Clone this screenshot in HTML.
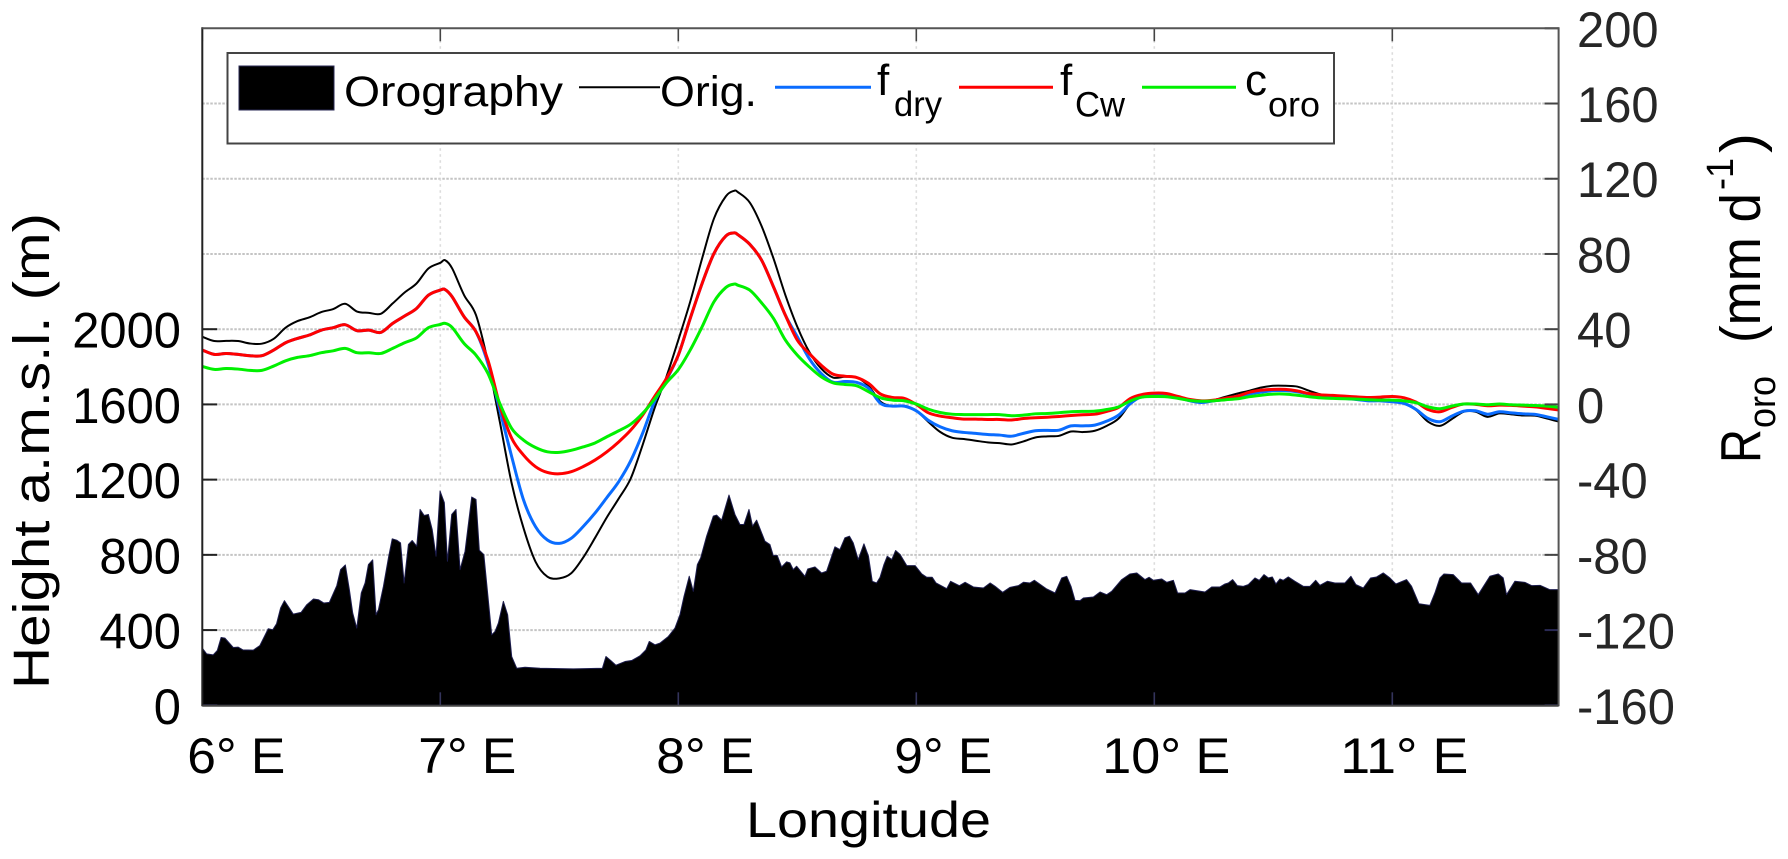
<!DOCTYPE html>
<html>
<head>
<meta charset="utf-8">
<title>Orography and R_oro by longitude</title>
<style>
html,body{margin:0;padding:0;background:#fff;}
svg{display:block;font-family:"Liberation Sans",Arial,sans-serif;}
</style>
</head>
<body>
<svg id="chart" width="1788" height="859" viewBox="0 0 1788 859" xmlns="http://www.w3.org/2000/svg">
  <rect width="1788" height="859" fill="#fff"/>
  <g id="grid"></g>
  <g id="marks"></g>
  <g id="axes"></g>

  <text x="746" y="837" font-size="50" textLength="245" lengthAdjust="spacingAndGlyphs" fill="#000">Longitude</text>
  <text transform="translate(49,689) rotate(-90)" font-size="51" textLength="476" lengthAdjust="spacingAndGlyphs" fill="#000">Height a.m.s.l. (m)</text>

  <g fill="#000">
    <text transform="translate(1760,463) rotate(-90)" font-size="57" textLength="34" lengthAdjust="spacingAndGlyphs">R</text>
    <text transform="translate(1775,428) rotate(-90)" font-size="38" textLength="52" lengthAdjust="spacingAndGlyphs">oro</text>
    <text transform="translate(1760,343) rotate(-90)" font-size="57" textLength="150" lengthAdjust="spacingAndGlyphs">(mm d</text>
    <text transform="translate(1733,190) rotate(-90)" font-size="38" textLength="32" lengthAdjust="spacingAndGlyphs">-1</text>
    <text transform="translate(1760,153) rotate(-90)" font-size="57" textLength="20" lengthAdjust="spacingAndGlyphs">)</text>
  </g>

  <g>
    <rect x="227.5" y="53" width="1106.5" height="90.5" fill="#fff" stroke="#444" stroke-width="2"/>
    <rect x="239" y="66" width="95" height="44" fill="#000" stroke="#2a2a55" stroke-width="1"/>
    <text x="344" y="106" font-size="43" textLength="219" lengthAdjust="spacingAndGlyphs" fill="#000">Orography</text>
    <line x1="579" x2="660" y1="87.3" y2="87.3" stroke="#000" stroke-width="2"/>
    <text x="660" y="106" font-size="43" textLength="97" lengthAdjust="spacingAndGlyphs" fill="#000">Orig.</text>
    <line x1="775" x2="871" y1="87.3" y2="87.3" stroke="#0a6cff" stroke-width="3"/>
    <text x="877" y="95" font-size="44" fill="#000">f</text>
    <text x="894" y="116" font-size="35" textLength="48" lengthAdjust="spacingAndGlyphs" fill="#000">dry</text>
    <line x1="959" x2="1053" y1="87.3" y2="87.3" stroke="#ff0000" stroke-width="3"/>
    <text x="1060" y="95" font-size="44" fill="#000">f</text>
    <text x="1075" y="116.5" font-size="35" textLength="50" lengthAdjust="spacingAndGlyphs" fill="#000">Cw</text>
    <line x1="1142" x2="1236" y1="87.3" y2="87.3" stroke="#00f000" stroke-width="3"/>
    <text x="1245" y="95" font-size="44" fill="#000">c</text>
    <text x="1268" y="116.5" font-size="35" textLength="52" lengthAdjust="spacingAndGlyphs" fill="#000">oro</text>
  </g>
</svg>
<script>
const xTickValues = [6, 7, 8, 9, 10, 11];
const xTickLabels = ["6° E", "7° E", "8° E", "9° E", "10° E", "11° E"];
const leftTickValues = [0, 400, 800, 1200, 1600, 2000];
const rightTickValues = [-160, -120, -80, -40, 0, 40, 80, 120, 160, 200];

const curveLon = [
  6.00,6.05,6.10,6.15,6.20,6.25,6.30,6.35,6.40,6.45,6.50,6.55,6.60,6.65,6.70,6.75,6.80,6.85,6.90,6.95,7.00,7.02,
  7.05,7.10,7.15,7.20,7.25,7.30,7.35,7.40,7.45,7.50,7.55,7.60,7.65,
  7.70,7.75,7.80,7.85,7.90,7.95,8.00,8.05,8.10,8.15,8.20,8.235,
  8.25,8.30,8.35,8.40,8.45,8.50,8.55,8.60,8.65,8.70,8.75,8.80,8.85,8.90,8.95,9.00,9.05,9.10,9.15,9.20,9.25,9.30,9.35,
  9.40,9.45,9.50,9.55,9.60,9.65,9.70,9.75,9.80,9.85,9.90,9.95,10.00,10.05,10.10,10.15,10.20,10.25,10.30,10.35,
  10.40,10.45,10.50,10.55,10.60,10.65,10.70,10.75,10.80,10.85,10.90,10.95,11.00,11.05,11.10,11.15,11.20,11.25,11.30,11.35,11.40,11.45,11.50,11.55,11.60,11.65,11.70
];
const origValues = [
  36.0,33.7,33.8,33.7,32.4,32.3,34.9,40.8,44.3,46.3,49.1,50.7,53.5,49.4,48.7,48.2,53.7,59.5,64.3,72.3,75.3,76.7,
  72.3,58.1,47.5,22.7,-9.2,-42,-65.9,-83.6,-91.6,-92.5,-89.8,-81.5,-71,
  -60,-50,-39.4,-21.6,-2.1,14.7,34.2,54.6,77.6,98.9,110.7,113.6,
  112.9,107.4,94.8,77.6,58.1,41.3,28,19.1,14.3,14.7,14.3,9.7,1.4,-0.9,-0.9,-3.4,-9.2,-14.6,-17.7,-18.4,-19.3,-20.2,-20.6,
  -21.3,-19.7,-17.6,-17,-16.7,-14.4,-14.7,-14,-11.4,-7.5,0.5,4.9,5.8,5.5,4.1,2.3,1.4,2.3,4.1,5.8,
  7.3,9,9.9,9.9,9.5,7.3,5.3,4.6,4,3.2,3.2,2.8,1.9,0.5,-3,-9.2,-11.4,-7.8,-3.9,-3.9,-6.6,-4.8,-5.3,-5.9,-6,-7.5,-9.2
];
const fDryValues = [
  28.9,26.6,27.1,26.6,25.9,25.9,28.9,32.8,35.1,36.9,39.5,40.8,42.4,39.2,39.5,38.3,43.1,47.0,51,58.1,60.8,61.1,
  57.2,46.6,38.6,21.8,-3,-27.8,-50.9,-65,-72.1,-73.9,-71.2,-65,-57.8,
  -49.5,-41,-30,-15.4,1.4,12.9,26.2,45.7,64.3,80.3,89.6,91.2,
  90.3,85.2,76.7,62.5,47.4,36,24.4,16.5,11.8,12.2,11.7,8.5,0.5,-0.9,-0.9,-3.4,-8.4,-11.9,-14,-14.9,-15.4,-16,-16.3,
  -16.9,-15.4,-14,-13.8,-13.7,-11.4,-11.4,-11,-8.9,-5.7,0.5,4.4,5.5,4.9,3.7,1.9,1,1.9,2.6,3.7,
  5.5,6.5,7.3,7.3,6.7,5.5,4.4,4,3.2,2.6,1.9,1.9,1.4,0.5,-2.7,-7.5,-9.2,-6.2,-3.6,-3.4,-5.2,-3.9,-4.5,-5,-5.3,-6.6,-8
];
const fCwValues = [
  28.9,26.6,27.1,26.6,25.9,25.9,28.9,32.8,35.1,36.9,39.5,40.8,42.4,39.2,39.5,38.3,43.1,47.0,51,58.1,60.8,61.1,
  57.2,46.6,38.6,23.6,-0.4,-18,-27,-33.1,-36.2,-36.9,-35.8,-33.1,-29.6,
  -25.2,-19.9,-13.7,-5.7,4.1,13.8,26.2,45.7,64.3,80.3,89.6,91.2,
  90.3,85.2,76.7,62.5,47.4,34.2,27.1,20.9,16.1,15,14.3,11.1,5.5,3.7,3.2,0,-4.4,-6.2,-7.1,-7.8,-7.8,-8,-8,
  -8.3,-7.5,-7.1,-6.8,-6.4,-5.9,-5.5,-5.2,-3.7,-1.6,3.2,5.3,6,5.8,4.2,2.6,1.9,2.3,3.3,4.4,
  6.5,7.6,8,8,7.2,5.8,5.1,4.8,4.4,4,3.7,3.9,4.2,3.5,1.2,-2.7,-3.9,-1.6,0.2,0,-0.7,-0.4,-0.5,-0.9,-1.3,-2.1,-3
];
const cOroValues = [
  20.2,18.6,19.1,18.8,18.1,18.1,20.4,23.2,25,25.9,27.5,28.5,29.8,27.5,27.5,27.1,29.8,32.8,35.4,40.8,42.5,43.1,
  40.9,32.4,26.2,16.5,0.5,-12.8,-19,-22.9,-25.2,-25.5,-24.4,-22.6,-20.5,
  -17.2,-14,-10.5,-4.8,2.8,11.5,18.5,28.9,41.3,54.6,62.2,64,
  63.4,60.8,54,45.7,34.2,26.2,20,14.7,11.5,10.6,9.9,6.7,3.5,2.3,1.9,0.2,-2.5,-4.3,-5.2,-5.4,-5.4,-5.4,-5.4,
  -6,-5.7,-5,-4.8,-4.4,-3.9,-3.7,-3.6,-2.7,-1.3,1.9,3.9,4.2,4.1,3.2,2.1,1.7,1.9,2.5,3,
  4.1,4.9,5.5,5.5,4.9,4.1,3.5,3.2,3,2.8,2.5,2.3,2.3,1.9,0.9,-1.3,-2.3,-0.9,0.2,0.2,-0.2,0.2,-0.2,-0.4,-0.6,-0.9,-1.6
];

const terrainLon = [
  6.000,6.018,6.046,6.063,6.079,6.095,6.130,6.151,6.170,6.214,6.242,6.277,6.296,6.312,6.329,6.345,6.361,6.382,6.415,6.439,
  6.467,6.488,6.511,6.534,6.565,6.581,6.601,6.618,6.632,6.649,6.668,6.684,6.698,6.716,6.730,6.740,6.761,6.782,6.798,6.817,
  6.833,6.848,6.866,6.882,6.901,6.915,6.932,6.950,6.966,6.982,6.999,7.017,7.030,7.048,7.066,7.083,7.104,7.132,7.150,7.164,
  7.183,7.216,7.230,7.244,7.265,7.283,7.300,7.321,7.356,7.419,7.559,7.681,7.696,7.716,7.738,7.776,7.804,7.839,7.864,7.878,
  7.902,7.923,7.958,7.986,8.007,8.024,8.046,8.063,8.080,8.094,8.119,8.147,8.161,8.182,8.213,8.238,8.259,8.276,8.297,8.312,
  8.329,8.364,8.385,8.399,8.416,8.434,8.455,8.469,8.483,8.497,8.532,8.544,8.574,8.602,8.623,8.658,8.679,8.700,8.719,8.735,
  8.756,8.780,8.799,8.815,8.833,8.8475,8.864,8.878,8.897,8.913,8.932,8.960,8.995,9.023,9.044,9.067,9.083,9.128,9.144,9.181,
  9.205,9.240,9.282,9.310,9.331,9.363,9.394,9.429,9.450,9.478,9.496,9.548,9.583,9.611,9.632,9.650,9.667,9.688,9.702,9.744,
  9.772,9.800,9.821,9.863,9.898,9.926,9.961,9.978,9.996,10.031,10.052,10.080,10.098,10.129,10.150,10.213,10.241,10.276,10.297,10.311,
  10.329,10.349,10.374,10.395,10.423,10.441,10.461,10.479,10.496,10.511,10.528,10.542,10.563,10.591,10.626,10.654,10.678,10.696,10.727,10.759,
  10.801,10.826,10.847,10.878,10.909,10.934,10.962,10.990,11.015,11.060,11.081,11.112,11.158,11.179,11.200,11.217,11.256,11.291,11.329,11.361,
  11.410,11.445,11.466,11.480,11.515,11.557,11.586,11.621,11.662,11.700
];
const terrainHeight = [
  303.8,273.6,268.3,291.4,360.7,357.2,307.4,309.2,294.9,293.2,318,406.9,401.6,433.6,517.2,556.3,526,485.2,494,534.9,
  565.2,561.6,543.8,547.4,636.3,721.6,746.5,614.9,490.5,410.5,597.2,650.5,748.3,773.2,481.6,508.3,632.7,783.8,885.2,878,
  863.8,650.5,854.9,876.3,846,1041.6,1009.6,1014.9,934.9,792.7,1139.4,1077.2,766,1014.9,1041.6,721.6,819.4,1107.4,1094.9,824.7,
  801.6,374.9,392.7,437.2,552.7,481.6,259.4,197.2,202.5,197.2,193.6,197.2,259.4,238,213.2,232.7,238,262.9,294.9,339.4,
  321.6,330.5,366,410.5,481.6,579.4,686,606,748.3,783.8,899.4,1006,1011.4,984.7,1118,1014.9,961.6,961.6,1041.6,952.7,
  984.7,872.7,854.9,796.3,796.3,735.8,762.5,757.2,721.6,739.4,686,725.2,735.8,703.8,712.7,842.5,828.3,890.5,899.4,863.8,
  774.9,858.5,792.7,659.4,650.5,680,748.3,792.7,774.9,822.9,801.6,742.9,742.9,698.5,680.7,680.7,650.5,620.3,659.4,636.3,
  654,629.2,623.8,650.5,632.7,600.7,627.4,636.3,654,650.5,664.7,618.5,597.2,677.2,686,632.7,558,556.3,570.5,575.8,
  602.5,588.3,606,668.3,698.5,703.8,668.3,680.7,664.7,671.8,654,664.7,597.2,597.2,615,602.5,629.2,629.2,645.2,650.5,
  668.3,636.3,632.7,641.6,677.2,664.7,695,677.2,682.5,645.2,671.8,664.7,682.5,659.4,632.7,632.7,664.7,638,659.4,650.5,
  650.5,686,641.6,623.8,677.2,682.5,703.8,677.2,645.2,668.3,632.7,540.3,531.4,597.2,677.2,698.5,695,650.5,650.5,588.3,
  686,698.5,677.2,588.3,659.4,654,636.3,638,614.9,614.9
];

const NS = "http://www.w3.org/2000/svg";
const plotLeft = 202.3, plotRight = 1558.6, plotTop = 28.3, plotBottom = 705.3;
const pxPerDegree = 238;
const xMin = 6;
function xScale(lon) { return plotLeft + (lon - xMin) * pxPerDegree; }
function heightScale(h) { return plotBottom - h * (plotBottom - plotTop) / 3600; }
function rateScale(r) { return plotBottom - (r + 160) * (plotBottom - plotTop) / 360; }
function numberWidth(s) {
  let w = 0;
  for (const ch of s) w += ch === "-" ? 16.3 : 27.2;
  return w;
}

function makeEl(tag, attrs, parent) {
  const el = document.createElementNS(NS, tag);
  for (const k in attrs) el.setAttribute(k, attrs[k]);
  parent.appendChild(el);
  return el;
}
function smoothPath(xs, ys) {
  let d = "M" + xs[0].toFixed(2) + " " + ys[0].toFixed(2);
  for (let i = 0; i < xs.length - 1; i++) {
    const i0 = Math.max(i - 1, 0), i3 = Math.min(i + 2, xs.length - 1);
    const c1x = xs[i] + (xs[i + 1] - xs[i0]) / 6, c1y = ys[i] + (ys[i + 1] - ys[i0]) / 6;
    const c2x = xs[i + 1] - (xs[i3] - xs[i]) / 6, c2y = ys[i + 1] - (ys[i3] - ys[i]) / 6;
    d += "C" + c1x.toFixed(2) + " " + c1y.toFixed(2) + " " + c2x.toFixed(2) + " " + c2y.toFixed(2) + " " + xs[i + 1].toFixed(2) + " " + ys[i + 1].toFixed(2);
  }
  return d;
}

const gridG = document.getElementById("grid");
const marksG = document.getElementById("marks");
const axesG = document.getElementById("axes");

rightTickValues.forEach(function (v) {
  if (v === -160 || v === 200) return;
  const y = rateScale(v);
  const line = makeEl("line", { x1: plotLeft, x2: plotRight, y1: y, y2: y, stroke: "#c4c4c4", "stroke-width": 2, "stroke-dasharray": "2.5 1.5" }, gridG);
  
  
});
xTickValues.forEach(function (v) {
  if (v === xMin) return;
  const x = xScale(v);
  const line = makeEl("line", { x1: x, x2: x, y1: plotTop, y2: plotBottom, stroke: "#dcdcdc", "stroke-width": 1.6, "stroke-dasharray": "2.5 3.5" }, gridG);
  
  
});

let terrainD = "M" + xScale(terrainLon[0]).toFixed(2) + " " + plotBottom;
terrainLon.forEach(function (lon, i) {
  terrainD += "L" + xScale(lon).toFixed(2) + " " + heightScale(terrainHeight[i]).toFixed(2);
});
terrainD += "L" + xScale(terrainLon[terrainLon.length - 1]).toFixed(2) + " " + plotBottom + "Z";
const terrain = makeEl("path", { d: terrainD, fill: "#000", stroke: "#1c1c4c", "stroke-width": 1, "stroke-linejoin": "round" }, marksG);



const seriesX = curveLon.map(xScale);
const origLine = makeEl("path", { d: smoothPath(seriesX, origValues.map(rateScale)), fill: "none", stroke: "#000", "stroke-width": 2 }, marksG);


const dryLine = makeEl("path", { d: smoothPath(seriesX, fDryValues.map(rateScale)), fill: "none", stroke: "#0a6cff", "stroke-width": 3 }, marksG);


const cwLine = makeEl("path", { d: smoothPath(seriesX, fCwValues.map(rateScale)), fill: "none", stroke: "#ff0000", "stroke-width": 3 }, marksG);


const oroLine = makeEl("path", { d: smoothPath(seriesX, cOroValues.map(rateScale)), fill: "none", stroke: "#00f000", "stroke-width": 3 }, marksG);



leftTickValues.forEach(function (v) {
  const y = heightScale(v);
  const tick = makeEl("line", { x1: plotLeft, x2: plotLeft + 15, y1: y, y2: y, stroke: v === 0 ? "#2a2a55" : "#222", "stroke-width": 2 }, axesG);
  
  
  const text = String(v);
  const label = makeEl("text", { x: 181, y: y + 18.5, "font-size": 50, "text-anchor": "end", fill: "#000", textLength: numberWidth(text), lengthAdjust: "spacingAndGlyphs" }, axesG);
  label.textContent = text;
  
  
});
rightTickValues.forEach(function (v) {
  const y = rateScale(v);
  const tick = makeEl("line", { x1: plotRight - 14, x2: plotRight, y1: y, y2: y, stroke: v <= -120 ? "#2a2a55" : "#444", "stroke-width": 2 }, axesG);
  
  
  const text = String(v);
  const label = makeEl("text", { x: 1577, y: y + 18.5, "font-size": 50, fill: "#262626", textLength: numberWidth(text), lengthAdjust: "spacingAndGlyphs" }, axesG);
  label.textContent = text;
  
  
});
xTickValues.forEach(function (v, i) {
  const x = xScale(v);
  const topTick = makeEl("line", { x1: x, x2: x, y1: plotTop, y2: plotTop + 13, stroke: "#444", "stroke-width": 1.6 }, axesG);
  
  
  const bottomTick = makeEl("line", { x1: x, x2: x, y1: plotBottom - 13, y2: plotBottom, stroke: "#34345c", "stroke-width": 1.6 }, axesG);
  
  
  const text = xTickLabels[i];
  const label = makeEl("text", { x: x + (i === 0 ? 83 : 76), y: 773, "font-size": 50, "text-anchor": "end", fill: "#000", textLength: text.length > 4 ? 128 : 98, lengthAdjust: "spacingAndGlyphs" }, axesG);
  label.textContent = text;
  
  
});

const frameLeft = makeEl("line", { x1: plotLeft, x2: plotLeft, y1: plotTop - 1, y2: plotBottom + 1, stroke: "#222", "stroke-width": 2 }, axesG);


const frameRight = makeEl("line", { x1: plotRight, x2: plotRight, y1: plotTop - 1, y2: plotBottom + 1, stroke: "#555", "stroke-width": 2 }, axesG);


const frameTop = makeEl("line", { x1: plotLeft, x2: plotRight, y1: plotTop, y2: plotTop, stroke: "#555", "stroke-width": 2 }, axesG);


const frameBottom = makeEl("line", { x1: plotLeft, x2: plotRight, y1: plotBottom + 0.5, y2: plotBottom + 0.5, stroke: "#444", "stroke-width": 2 }, axesG);


</script>
</body>
</html>
